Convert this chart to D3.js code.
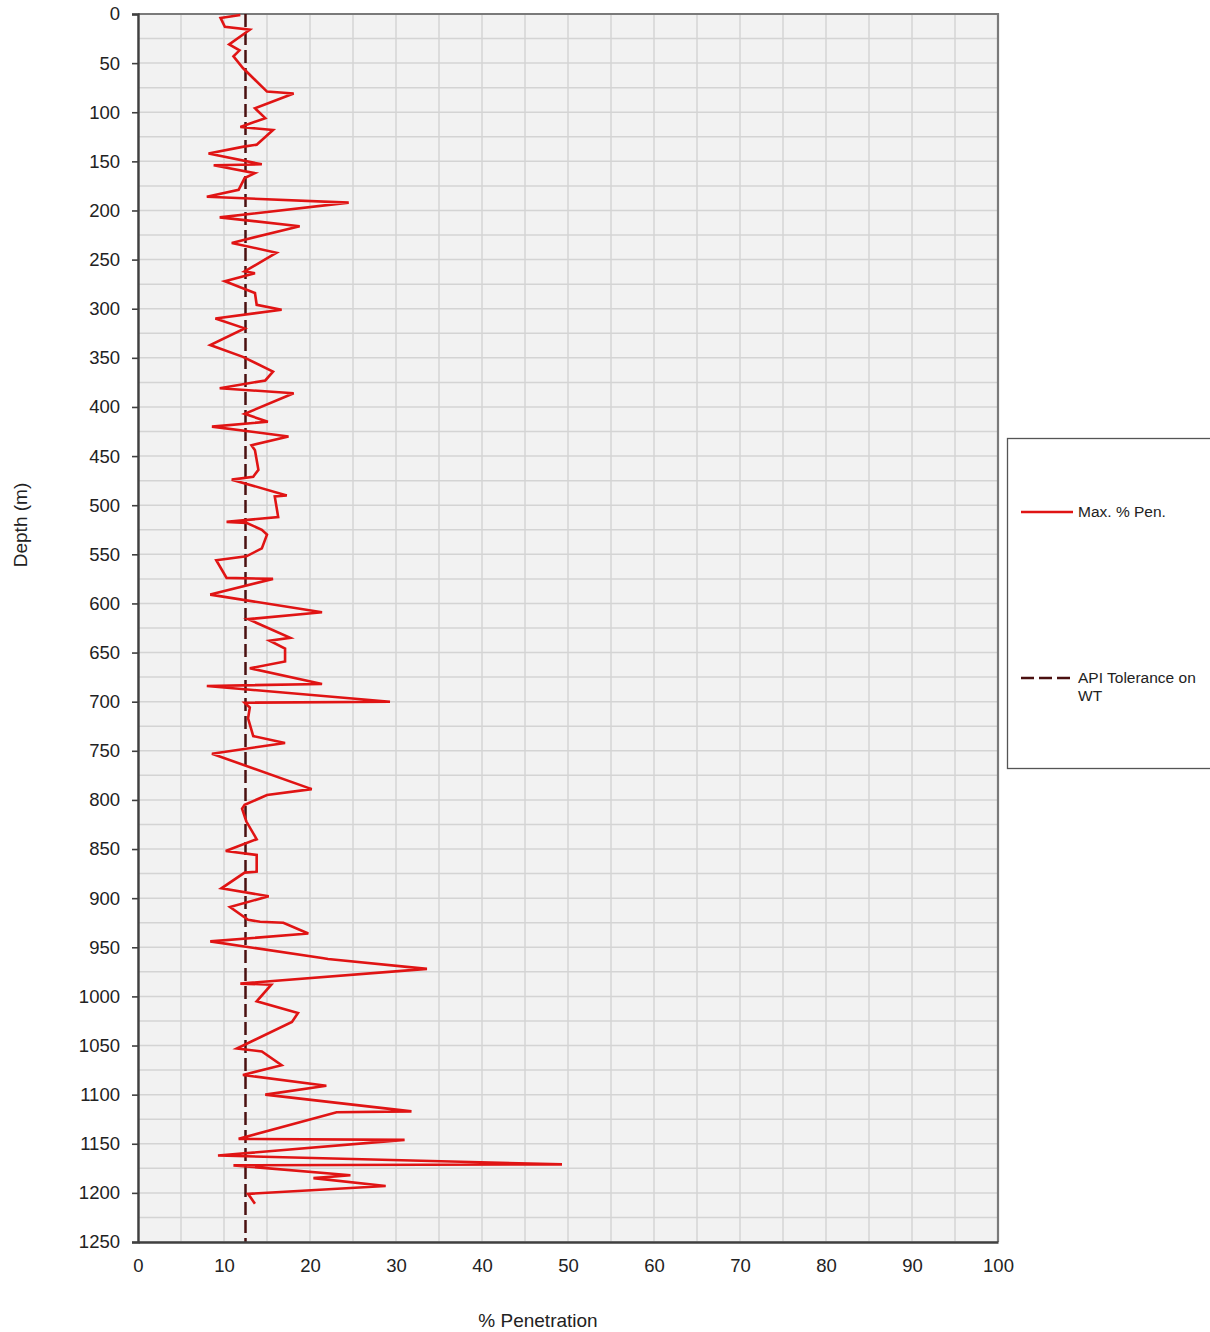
<!DOCTYPE html>
<html>
<head>
<meta charset="utf-8">
<script src="https://cdn.jsdelivr.net/npm/d3@7"></script>
<style>
  html, body { margin: 0; padding: 0; background: #ffffff; }
  svg { display: block; }
  text { font-family: "Liberation Sans", Arial, sans-serif; fill: #222; }
</style>
</head>
<body>
<svg id="chart" width="1210" height="1332"></svg>
<script>
// Inspection log: depth along the pipe (m) and maximum wall penetration (%)
const depths = [
  1, 4, 13, 16, 31, 37, 43, 55, 79, 81, 96, 106, 115, 118, 133, 135, 142, 153, 154, 162,
  167, 179, 186, 192, 207, 216, 233, 243, 262, 264, 272, 284, 296, 301, 310, 320, 337, 349,
  364, 373, 381, 386, 407, 415, 420, 430, 439, 444, 464, 471, 474, 490, 491, 512, 517, 518,
  525, 530, 544, 552, 556, 574, 575, 591, 609, 616, 635, 638, 646, 659, 666, 682, 684, 700,
  701, 706, 717, 735, 742, 753, 789, 795, 805, 809, 822, 840, 852, 856, 873, 874, 890, 898,
  909, 922, 924, 925, 936, 944, 961, 962, 972, 987, 988, 1005, 1017, 1026, 1053, 1056, 1070,
  1080, 1091, 1100, 1117, 1118, 1145, 1146, 1162, 1171, 1172, 1182, 1185, 1193, 1201, 1211
];
const maxPen = [
  11.9, 9.6, 10.1, 13.0, 10.6, 11.8, 11.1, 12.2, 15.0, 18.1, 13.6, 14.8, 11.9, 15.7, 13.8, 12.3, 8.2, 14.4, 8.8, 13.6,
  12.4, 11.7, 8.0, 24.5, 9.5, 18.8, 10.9, 16.1, 12.4, 13.6, 10.1, 13.6, 13.8, 16.7, 9.0, 12.4, 8.4, 12.2,
  15.7, 14.8, 9.5, 18.1, 12.4, 15.1, 8.6, 17.5, 13.2, 13.6, 14.0, 13.4, 10.9, 17.3, 15.9, 16.3, 10.3, 12.6,
  14.4, 15.0, 14.4, 12.6, 9.1, 10.3, 15.7, 8.4, 21.4, 12.8, 17.7, 15.3, 17.1, 17.1, 13.0, 21.4, 8.0, 29.3,
  12.4, 13.0, 12.8, 13.4, 17.1, 8.6, 20.2, 15.0, 12.4, 12.1, 12.6, 13.8, 10.2, 13.8, 13.8, 12.4, 9.7, 15.2,
  10.7, 12.8, 14.2, 16.9, 19.8, 8.4, 21.4, 22.1, 33.6, 11.9, 15.5, 13.8, 18.6, 17.9, 11.5, 14.4, 16.7,
  12.2, 21.9, 14.8, 31.8, 23.1, 11.7, 31.0, 9.3, 49.3, 11.1, 24.7, 20.4, 28.8, 12.8, 13.6
];
// API wall-thickness tolerance (%)
const apiTolerance = 12.5;

const xTicks = [0, 10, 20, 30, 40, 50, 60, 70, 80, 90, 100];
const yTicks = [0, 50, 100, 150, 200, 250, 300, 350, 400, 450, 500, 550, 600, 650, 700, 750,
  800, 850, 900, 950, 1000, 1050, 1100, 1150, 1200, 1250];
const xGrid = d3.range(0, 101, 5);
const yGrid = d3.range(0, 1251, 25);

const seriesNames = ["Max. % Pen.", "API Tolerance on WT"];

const svg = d3.select("#chart");
const plot = { left: 138, right: 998, top: 14, bottom: 1242 };

const x = d3.scaleLinear().domain([0, 100]).range([plot.left, plot.right]);
const y = d3.scaleLinear().domain([0, 1250]).range([plot.top, plot.bottom]);

// plot background
svg.append("rect")
  .attr("x", plot.left).attr("y", plot.top)
  .attr("width", plot.right - plot.left).attr("height", plot.bottom - plot.top)
  .attr("fill", "#f2f2f2");

// grid
svg.append("g").selectAll("line").data(xGrid).join("line")
  .attr("x1", d => x(d)).attr("x2", d => x(d))
  .attr("y1", plot.top).attr("y2", plot.bottom)
  .attr("stroke", "#d4d4d4").attr("stroke-width", 1.5);
svg.append("g").selectAll("line").data(yGrid).join("line")
  .attr("y1", d => y(d)).attr("y2", d => y(d))
  .attr("x1", plot.left).attr("x2", plot.right)
  .attr("stroke", "#d4d4d4").attr("stroke-width", 1.5);

// frame: top and right borders
svg.append("path")
  .attr("d", `M${plot.left},${plot.top}H${plot.right}V${plot.bottom}`)
  .attr("fill", "none").attr("stroke", "#7a7a7a").attr("stroke-width", 2.2);

// API tolerance line
svg.append("line")
  .attr("x1", x(apiTolerance)).attr("x2", x(apiTolerance))
  .attr("y1", y(0)).attr("y2", y(1250))
  .attr("stroke", "#4a1010").attr("stroke-width", 2.5)
  .attr("stroke-dasharray", "13,5");

// penetration trace
const pts = depths.map((d, i) => [maxPen[i], d]);
svg.append("path")
  .datum(pts)
  .attr("fill", "none")
  .attr("stroke", "#e01414")
  .attr("stroke-width", 2.6)
  .attr("stroke-linejoin", "miter")
  .attr("d", d3.line().x(p => x(p[0])).y(p => y(p[1])));

// y axis
const yAxis = svg.append("g")
  .attr("transform", `translate(${plot.left},0)`)
  .call(d3.axisLeft(y).tickValues(yTicks).tickSize(6).tickPadding(12).tickFormat(d3.format("d")));
yAxis.select(".domain").attr("stroke", "#404040").attr("stroke-width", 2.4);
yAxis.selectAll(".tick line").attr("stroke", "#404040").attr("stroke-width", 1.6);
yAxis.selectAll(".tick text")
  .attr("font-size", 18.5).attr("fill", "#222")
  .style("font-family", "'Liberation Sans', Arial, sans-serif");

// x axis
const xAxis = svg.append("g")
  .attr("transform", `translate(0,${plot.bottom})`)
  .call(d3.axisBottom(x).tickValues(xTicks).tickSize(0).tickPadding(17).tickFormat(d3.format("d")));
xAxis.select(".domain").attr("stroke", "#404040").attr("stroke-width", 2.4);
xAxis.selectAll(".tick text")
  .attr("font-size", 18.5).attr("fill", "#222")
  .style("font-family", "'Liberation Sans', Arial, sans-serif");

// axis titles
svg.append("text")
  .attr("x", 538).attr("y", 1327)
  .attr("text-anchor", "middle")
  .attr("font-size", 19)
  .text("% Penetration");
svg.append("text")
  .attr("transform", "translate(27,525) rotate(-90)")
  .attr("text-anchor", "middle")
  .attr("font-size", 19)
  .text("Depth (m)");

// legend
const lg = svg.append("g");
lg.append("rect")
  .attr("x", 1007.5).attr("y", 438.5).attr("width", 210).attr("height", 330)
  .attr("fill", "#ffffff").attr("stroke", "#555").attr("stroke-width", 1.3);
lg.append("line")
  .attr("x1", 1021).attr("x2", 1073).attr("y1", 512).attr("y2", 512)
  .attr("stroke", "#e01414").attr("stroke-width", 2.6);
lg.append("text")
  .attr("x", 1078).attr("y", 517).attr("font-size", 15.5)
  .text(seriesNames[0]);
lg.append("line")
  .attr("x1", 1021).attr("x2", 1073).attr("y1", 678).attr("y2", 678)
  .attr("stroke", "#4a1010").attr("stroke-width", 2.5)
  .attr("stroke-dasharray", "13,5");
const t2 = lg.append("text").attr("x", 1078).attr("y", 683).attr("font-size", 15.5);
t2.append("tspan").attr("x", 1078).text("API Tolerance on");
t2.append("tspan").attr("x", 1078).attr("dy", 18).text("WT");
</script>
</body>
</html>
